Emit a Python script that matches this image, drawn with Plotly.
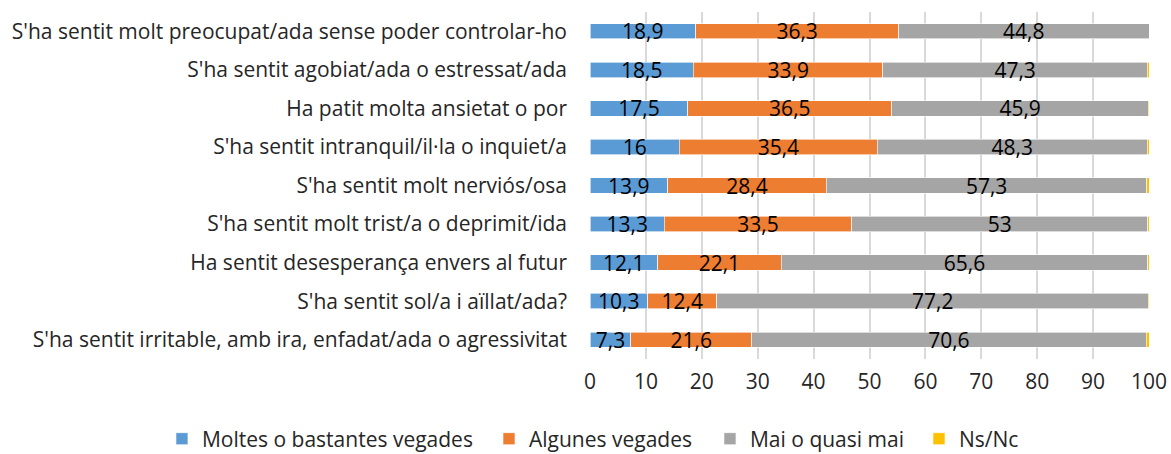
import plotly.graph_objects as go

categories = [
    "S'ha sentit molt preocupat/ada sense poder controlar-ho",
    "S'ha sentit agobiat/ada o estressat/ada",
    "Ha patit molta ansietat o por",
    "S'ha sentit intranquil/il·la o inquiet/a",
    "S'ha sentit molt nerviós/osa",
    "S'ha sentit molt trist/a o deprimit/ida",
    "Ha sentit desesperança envers al futur",
    "S'ha sentit sol/a i aïllat/ada?",
    "S'ha sentit irritable, amb ira, enfadat/ada o agressivitat",
]
moltes = [18.9, 18.5, 17.5, 16, 13.9, 13.3, 12.1, 10.3, 7.3]
algunes = [36.3, 33.9, 36.5, 35.4, 28.4, 33.5, 22.1, 12.4, 21.6]
mai = [44.8, 47.3, 45.9, 48.3, 57.3, 53, 65.6, 77.2, 70.6]
nsnc = [0.0, 0.3, 0.1, 0.3, 0.4, 0.2, 0.2, 0.1, 0.5]

series = [
    ("Moltes o bastantes vegades", moltes, "#5B9BD5", True, "legend"),
    ("Algunes vegades", algunes, "#ED7D31", True, "legend2"),
    ("Mai o quasi mai", mai, "#A5A5A5", True, "legend3"),
    ("Ns/Nc", nsnc, "#FFC000", False, "legend4"),
]
legend_x = [0.1383, 0.4176, 0.6063, 0.7848]

FONT = "Open Sans"
TXT = "#262626"
fig = go.Figure()
for name, vals, color, show, lg in series:
    fig.add_trace(go.Bar(
        y=categories, x=vals, name=name, orientation="h", legend=lg,
        marker=dict(color=color, line=dict(color="white", width=0.6)),
        text=[f"{v:g}".replace(".", ",") for v in vals] if show else None,
        textposition="inside" if show else "none",
        insidetextanchor="middle",
        textangle=0,
        textfont=dict(family=FONT, size=21, color="black"),
        constraintext="none",
        hoverinfo="skip",
    ))

legend_common = dict(orientation="h", xref="container", xanchor="left",
                     yref="container", y=0.033, yanchor="middle",
                     font=dict(family=FONT, size=21, color=TXT),
                     itemwidth=30, bgcolor="rgba(0,0,0,0)")
fig.update_layout(
    barmode="stack",
    bargap=0.6,
    width=1171, height=454,
    margin=dict(l=590, r=22, t=12, b=95),
    plot_bgcolor="white", paper_bgcolor="white",
    separators=",.",
    font=dict(family=FONT, size=21, color=TXT),
    legend=dict(x=legend_x[0], **legend_common),
    legend2=dict(x=legend_x[1], **legend_common),
    legend3=dict(x=legend_x[2], **legend_common),
    legend4=dict(x=legend_x[3], **legend_common),
    showlegend=True,
)
fig.update_xaxes(range=[0, 100], dtick=10, showgrid=True, gridcolor="#D9D9D9", gridwidth=1.5,
                 zeroline=False, showline=False, ticks="", automargin=False,
                 tickfont=dict(family=FONT, size=21, color=TXT), ticklabelstandoff=8)
fig.update_yaxes(autorange="reversed", showgrid=False, ticks="", showline=False, automargin=False,
                 tickfont=dict(family=FONT, size=21, color=TXT), ticklabelstandoff=22)

fig.write_html("out.html",
               config={"displayModeBar": False},
               post_script="document.body.style.margin='0';document.body.style.overflow='hidden';")
